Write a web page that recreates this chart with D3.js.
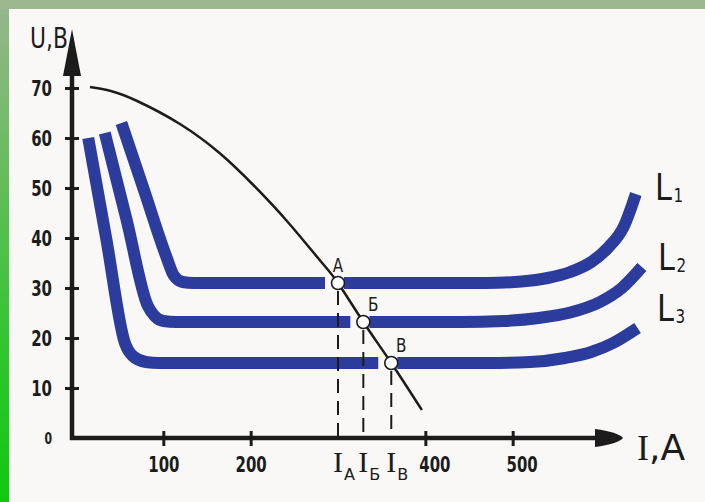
<!DOCTYPE html>
<html>
<head>
<meta charset="utf-8">
<script src="https://cdn.jsdelivr.net/npm/d3@7"></script>
<style>
body { margin: 0; background: #faf8f7; }
svg { display: block; }
</style>
</head>
<body>
<script>
// tick labels
var yTicks = [0, 10, 20, 30, 40, 50, 60, 70];
var xTicks = [100, 200, 400, 500];

// operating points (I, U) where the load line meets L1..L3
var pointNames = ['A', 'Б', 'В'];
var pointI = [300, 329, 361];
var pointU = [31, 23.2, 15];

// external characteristics, [I, U]
var seriesNames = ['1', '2', '3'];
var L1 = [[52, 63], [78, 49.5], [104, 36], [112, 32.5], [122, 31.2], [135, 31], [470, 31], [510, 31.3], [540, 32], [566, 33.2], [590, 35.2], [610, 38.2], [627, 42.2], [641, 48.8]];
var L2 = [[33, 61], [58, 43.6], [82, 26.5], [90, 24.4], [100, 23.4], [115, 23.2], [440, 23.2], [490, 23.4], [530, 24], [566, 25.1], [600, 27.2], [625, 30], [648, 34.2]];
var L3 = [[14, 60], [35, 39.5], [56, 19], [65, 16.4], [80, 15.2], [95, 15], [470, 15], [520, 15.2], [560, 16], [590, 17.2], [615, 19], [643, 22]];

// falling source characteristic
var loadLine = [[16, 70.2], [40, 69.4], [70, 67.4], [119, 62.8], [165, 56.9], [203, 50.6], [242, 43.3], [279, 35.6], [300, 31], [329, 23.2], [361, 15], [396, 5.6]];

var W = 705, H = 502;
var bg = '#faf8f7';
var ink = '#1c1c1c';
var blue = '#2b3c9c';

var svg = d3.select('body').append('svg')
    .attr('width', W)
    .attr('height', H);

var grad = svg.append('defs').append('linearGradient')
    .attr('id', 'side')
    .attr('x1', 0).attr('y1', 0).attr('x2', 0).attr('y2', 1);
grad.append('stop').attr('offset', 0).attr('stop-color', '#94b68c');
grad.append('stop').attr('offset', 0.35).attr('stop-color', '#63bd59');
grad.append('stop').attr('offset', 0.7).attr('stop-color', '#2fc52f');
grad.append('stop').attr('offset', 1).attr('stop-color', '#10c810');

svg.append('rect').attr('width', W).attr('height', H).attr('fill', bg);
svg.append('rect').attr('width', W).attr('height', 9).attr('fill', '#9db68c');
svg.append('rect').attr('x', 0).attr('y', 9).attr('width', 9).attr('height', H - 9).attr('fill', 'url(#side)');

var x = d3.scaleLinear().domain([0, 600]).range([76, 600]);
var y = d3.scaleLinear().domain([0, 70]).range([438, 88]);
var ox = 72, oy = y(0);

// blue curves
var curve = d3.line()
    .x(function(d) { return x(d[0]); })
    .y(function(d) { return y(d[1]); })
    .curve(d3.curveMonotoneX);

var series = [L1, L2, L3];
svg.append('g').selectAll('path')
    .data(series)
    .enter()
    .append('path')
    .attr('d', curve)
    .attr('fill', 'none')
    .attr('stroke', blue)
    .attr('stroke-width', 12)
    .attr('stroke-linecap', 'butt')
    .attr('stroke-linejoin', 'round');

// breaks in the blue lines around the points
svg.append('g').selectAll('rect')
    .data(pointI)
    .enter()
    .append('rect')
    .attr('x', function(d) { return x(d) - 13; })
    .attr('y', function(d, i) { return y(pointU[i]) - 8; })
    .attr('width', 19)
    .attr('height', 16)
    .attr('fill', bg);

// load line
var smooth = d3.line()
    .x(function(d) { return x(d[0]); })
    .y(function(d) { return y(d[1]); })
    .curve(d3.curveNatural);
svg.append('path')
    .attr('d', smooth(loadLine))
    .attr('fill', 'none')
    .attr('stroke', ink)
    .attr('stroke-width', 2.5);

// dashed drops
svg.append('g').selectAll('line')
    .data(pointI)
    .enter()
    .append('line')
    .attr('x1', function(d) { return x(d); })
    .attr('x2', function(d) { return x(d); })
    .attr('y1', function(d, i) { return y(pointU[i]) + 8; })
    .attr('y2', oy - 2)
    .attr('stroke', ink)
    .attr('stroke-width', 2)
    .attr('stroke-dasharray', '14,8');

// point circles
svg.append('g').selectAll('circle')
    .data(pointI)
    .enter()
    .append('circle')
    .attr('cx', function(d) { return x(d); })
    .attr('cy', function(d, i) { return y(pointU[i]); })
    .attr('r', 6.5)
    .attr('fill', '#ffffff')
    .attr('stroke', ink)
    .attr('stroke-width', 1.6);

svg.append('g').selectAll('text')
    .data(pointNames)
    .enter()
    .append('text')
    .attr('transform', function(d, i) {
        var dx = i == 0 ? 0 : 10;
        return 'translate(' + (x(pointI[i]) + dx) + ',' + (y(pointU[i]) - 11) + ') scale(0.8,1)';
    })
    .attr('text-anchor', 'middle')
    .style('font-family', 'DejaVu Sans')
    .style('font-size', '19px')
    .attr('fill', ink)
    .text(function(d) { return d; });

// axes
var yAxis = d3.axisLeft(y).tickValues(yTicks).tickSize(0).tickPadding(0);
var gy = svg.append('g').attr('transform', 'translate(' + ox + ',0)').call(yAxis);
gy.select('.domain').remove();
gy.selectAll('.tick line')
    .attr('x1', -7).attr('x2', 7)
    .attr('stroke', ink).attr('stroke-width', 3)
    .filter(function(d) { return d == 0; }).remove();
gy.selectAll('.tick text')
    .attr('x', null)
    .attr('dy', '0.36em')
    .attr('transform', 'translate(-20,0) scale(0.68,1)')
    .attr('fill', ink)
    .style('font-family', 'DejaVu Sans')
    .style('font-weight', 'bold')
    .style('font-size', function(d) { return d == 0 ? '16px' : '22px'; });

var xAxis = d3.axisBottom(x).tickValues(xTicks).tickSize(0).tickPadding(0);
var gx = svg.append('g').attr('transform', 'translate(0,' + oy + ')').call(xAxis);
gx.select('.domain').remove();
gx.selectAll('.tick line')
    .attr('y1', -7).attr('y2', 8)
    .attr('stroke', ink).attr('stroke-width', 3);
gx.selectAll('.tick text')
    .attr('y', null)
    .attr('dy', null)
    .attr('transform', function(d) { return 'translate(' + (d >= 400 ? 9 : 0) + ',34) scale(0.68,1)'; })
    .attr('fill', ink)
    .style('font-family', 'DejaVu Sans')
    .style('font-weight', 'bold')
    .style('font-size', '22px');

svg.append('line')
    .attr('x1', ox).attr('y1', oy + 2).attr('x2', ox).attr('y2', 70)
    .attr('stroke', ink).attr('stroke-width', 4.5);
svg.append('line')
    .attr('x1', ox - 2).attr('y1', oy).attr('x2', 600).attr('y2', oy)
    .attr('stroke', ink).attr('stroke-width', 4.5);
svg.append('path')
    .attr('d', 'M' + ox + ',29L' + (ox - 9) + ',76L' + (ox + 9) + ',76Z')
    .attr('fill', ink);
svg.append('path')
    .attr('d', 'M623,' + oy + 'Q618,' + (oy - 6) + ' 595,' + (oy - 9) + 'L595,' + (oy + 9) + 'Q618,' + (oy + 6) + ' 623,' + oy + 'Z')
    .attr('fill', ink);

// axis titles
svg.append('text')
    .attr('transform', 'translate(30,48) scale(0.78,1)')
    .style('font-family', 'DejaVu Sans')
    .style('font-size', '28px')
    .attr('fill', ink)
    .text('U,B');

var ia = svg.append('text')
    .attr('x', 637).attr('y', 460)
    .style('font-size', '36px')
    .attr('fill', ink);
ia.append('tspan').style('font-family', 'Liberation Serif').text('I');
ia.append('tspan').style('font-family', 'DejaVu Sans').text(',A');

// I_A, I_Б, I_В under the axis
var sub = svg.append('g').selectAll('text')
    .data(pointNames)
    .enter()
    .append('text')
    .attr('x', function(d, i) { return x(pointI[i]) - 5; })
    .attr('y', 472)
    .attr('fill', ink);
sub.append('tspan')
    .style('font-family', 'Liberation Serif')
    .style('font-size', '30px')
    .text('I');
sub.append('tspan')
    .attr('dy', 8)
    .attr('dx', 1)
    .style('font-family', 'DejaVu Sans')
    .style('font-size', '16px')
    .text(function(d) { return d; });

// curve names
var legendPos = [[655, 200], [658, 270], [657, 321]];
var leg = svg.append('g').selectAll('text')
    .data(seriesNames)
    .enter()
    .append('text')
    .attr('transform', function(d, i) {
        return 'translate(' + legendPos[i][0] + ',' + legendPos[i][1] + ') scale(0.8,1)';
    })
    .attr('fill', ink)
    .style('font-family', 'DejaVu Sans');
leg.append('tspan').style('font-size', '38px').text('L');
leg.append('tspan')
    .attr('dy', 2)
    .attr('dx', 2)
    .style('font-size', '19px')
    .text(function(d) { return d; });
</script>
</body>
</html>
